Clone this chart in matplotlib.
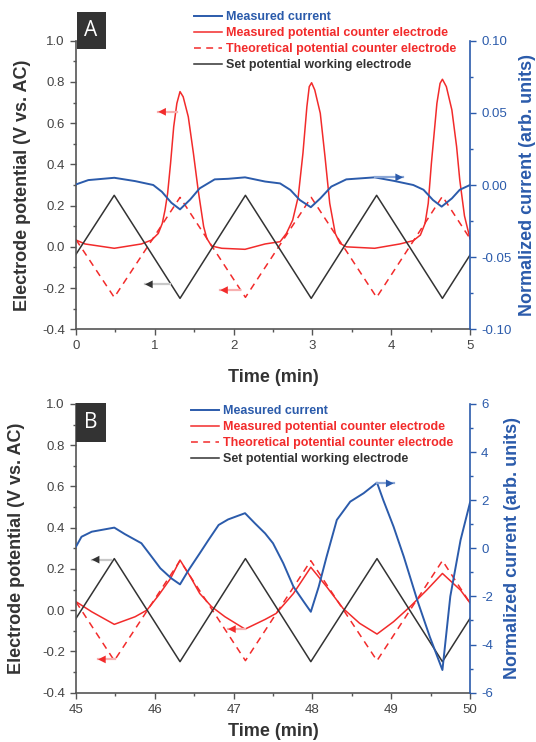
import numpy as np
import matplotlib
matplotlib.use("Agg")
import matplotlib.pyplot as plt
from matplotlib.ticker import MultipleLocator
from matplotlib.patches import Rectangle

plt.rcParams['font.family'] = ['Liberation Sans', 'DejaVu Sans']

# ---------------- panel A data (0-5 min) ----------------
tA_cur = [0, 0.156, 0.486, 0.75, 0.98, 1.09, 1.21, 1.32, 1.45, 1.57, 1.76, 1.93, 2.145, 2.40,
          2.59, 2.72, 2.84, 2.98, 3.10, 3.24, 3.43, 3.79, 4.03, 4.28, 4.41, 4.53, 4.64, 4.77, 4.87, 5.0]
cA_cur = [0.0004, 0.0034, 0.005, 0.0027, 0.0, -0.0047, -0.0123, -0.0169, -0.010, -0.0023, 0.0039,
          0.0043, 0.0053, 0.0024, 0.0011, -0.0034, -0.0104, -0.0154, -0.0093, -0.0011, 0.0039,
          0.0053, 0.0029, 0.0, -0.0033, -0.0104, -0.015, -0.0093, -0.0033, 0.0]

tA_ce = [0.0, 0.114, 0.486, 0.83, 0.96, 1.044, 1.095, 1.13, 1.163, 1.20, 1.24, 1.28, 1.32, 1.36,
         1.425, 1.49, 1.55, 1.62, 1.66, 1.72, 1.85, 2.145, 2.40, 2.59, 2.67, 2.75, 2.82, 2.88,
         2.93, 2.96, 2.99, 3.03, 3.10, 3.16, 3.22, 3.29, 3.35, 3.43, 3.79, 4.11, 4.28, 4.37,
         4.43, 4.47, 4.51, 4.58, 4.62, 4.65, 4.70, 4.77, 4.83, 4.87, 4.93, 5.0]
vA_ce = [0.033, 0.014, -0.007, 0.014, 0.033, 0.065, 0.114, 0.179, 0.26, 0.405, 0.583, 0.696,
         0.753, 0.728, 0.631, 0.454, 0.276, 0.098, 0.041, 0.004, -0.007, -0.012, 0.014, 0.025,
         0.065, 0.13, 0.243, 0.454, 0.68, 0.777, 0.796, 0.761, 0.648, 0.437, 0.211, 0.065,
         0.017, 0.0, -0.007, 0.014, 0.03, 0.057, 0.114, 0.211, 0.405, 0.696, 0.793, 0.813,
         0.777, 0.664, 0.486, 0.325, 0.15, 0.04]

tA_tri = [0, 0.485, 1.32, 2.15, 2.985, 3.815, 4.65, 5.0]
vA_theo = [0.035, -0.245, 0.24, -0.245, 0.24, -0.245, 0.245, 0.04]
vA_we = [-0.036, 0.25, -0.25, 0.25, -0.25, 0.25, -0.25, -0.04]

# ---------------- panel B data (45-50 min) ----------------
tB_cur = [45.0, 45.07, 45.2, 45.486, 45.62, 45.83, 45.96, 46.07, 46.21, 46.32, 46.43, 46.57,
          46.68, 46.81, 46.93, 47.145, 47.27, 47.40, 47.5, 47.63, 47.76, 47.89, 47.98, 48.08,
          48.18, 48.31, 48.48, 48.65, 48.82, 48.90, 49.03, 49.16, 49.33, 49.49, 49.65, 49.75,
          49.88, 50.0]
cB_cur = [0.07, 0.48, 0.69, 0.86, 0.59, 0.21, -0.35, -0.83, -1.25, -1.50, -0.90, -0.21, 0.34,
          0.97, 1.2, 1.46, 1.04, 0.62, 0.21, -0.62, -1.6, -2.22, -2.64, -1.6, -0.35, 1.18, 1.94,
          2.29, 2.73, 2.0, 0.90, -0.35, -2.15, -3.68, -5.06, -2.0, 0.34, 1.9]

tB_ce = [45.0, 45.2, 45.486, 45.75, 45.9, 46.05, 46.2, 46.32, 46.45, 46.57, 46.72, 46.89,
         47.145, 47.40, 47.54, 47.76, 47.98, 48.18, 48.39, 48.60, 48.82, 49.03, 49.24, 49.45,
         49.65, 49.88, 50.0]
vB_ce = [0.041, -0.008, -0.069, -0.032, 0.0, 0.073, 0.154, 0.243, 0.163, 0.081, 0.017, -0.032,
         -0.092, -0.045, -0.016, 0.081, 0.208, 0.114, 0.008, -0.064, -0.116, -0.056, 0.017,
         0.097, 0.178, 0.097, 0.035]

tB_tri = [45.0, 45.486, 46.32, 47.15, 47.98, 48.82, 49.65, 50.0]
vB_theo = [0.04, -0.245, 0.24, -0.245, 0.24, -0.245, 0.24, 0.035]
vB_we = [-0.04, 0.25, -0.25, 0.25, -0.25, 0.25, -0.25, -0.04]

labels = ["Measured current", "Measured potential counter electrode",
          "Theoretical potential counter electrode", "Set potential working electrode"]

BLUE = "#2b5bab"
RED = "#f22b2b"
BLACK = "#333333"
GRAY = "#444444"

W, H = 536, 742
fig = plt.figure(figsize=(W / 100, H / 100), dpi=100)


def arrow(ax, x0, x1, y, color, light):
    ax.plot([x0, x1], [y, y], color=light, lw=1.6, zorder=4)
    ax.annotate('', xy=(x1, y), xytext=(x0, y),
                arrowprops=dict(arrowstyle='-|>,head_length=0.55,head_width=0.28',
                                color=color, lw=0, shrinkA=0, shrinkB=0), zorder=5)


def letter_box(letter, x0, x1, y0, y1):
    # dark square with white letter, in pixel coords from the top-left
    fig.add_artist(Rectangle((x0 / W, 1 - y1 / H), (x1 - x0) / W, (y1 - y0) / H,
                             transform=fig.transFigure, fc='#333333', ec='none', zorder=5))
    fig.text((x0 + x1) / 2 / W, 1 - (y0 + y1) / 2 / H, letter, color='white', fontsize=15,
             family='Open Sans', ha='center', va='center', zorder=6)


def panel(rect, t_cur, c_cur, t_ce, v_ce, t_tri, v_theo, v_we, xlim, clim, cmaj, cmin,
          cfmt, leg_xy, ylab_x, rlab_x, xpad):
    ax = fig.add_axes(rect)
    ax2 = ax.twinx()
    l2, = ax.plot(t_ce, v_ce, color=RED, lw=1.1)
    l3, = ax.plot(t_tri, v_theo, color=RED, lw=1.1, ls=(0, (4.5, 3.5)))
    l4, = ax.plot(t_tri, v_we, color=BLACK, lw=1.1)
    l1, = ax2.plot(t_cur, c_cur, color=BLUE, lw=1.4)

    ax.set_xlim(*xlim)
    ax.set_ylim(-0.4, 1.0)
    ax2.set_ylim(*clim)
    ax.xaxis.set_major_locator(MultipleLocator(1))
    ax.xaxis.set_minor_locator(MultipleLocator(0.5))
    ax.yaxis.set_major_locator(MultipleLocator(0.2))
    ax.yaxis.set_minor_locator(MultipleLocator(0.1))
    ax2.yaxis.set_major_locator(MultipleLocator(cmaj))
    ax2.yaxis.set_minor_locator(MultipleLocator(cmin))
    ax.yaxis.set_major_formatter(plt.FuncFormatter(lambda v, p: f"{v:.1f}"))
    ax2.yaxis.set_major_formatter(plt.FuncFormatter(cfmt))

    for a in (ax, ax2):
        a.spines['top'].set_visible(False)
    ax.spines['right'].set_visible(False)
    ax2.spines['left'].set_visible(False)
    ax2.spines['bottom'].set_visible(False)
    for s in ('left', 'bottom'):
        ax.spines[s].set_color('#555555')
        ax.spines[s].set_linewidth(1.2)
    ax2.spines['right'].set_color(BLUE)
    ax2.spines['right'].set_linewidth(1.2)

    ax.tick_params(which='major', length=4, width=1, color='#555555', labelcolor=GRAY,
                   labelsize=9.5, pad=4)
    ax.tick_params(which='minor', length=2.5, width=1, color='#555555')
    ax2.tick_params(which='major', length=4, width=1, color=BLUE, labelcolor=BLUE,
                    labelsize=9.5, pad=4)
    ax2.tick_params(which='minor', length=2.5, width=1, color=BLUE)

    ax.set_xlabel("Time (min)", fontsize=13, fontweight='bold', color=BLACK, labelpad=xpad)
    ax.set_ylabel("Electrode potential (V vs. AC)", fontsize=13, fontweight='bold',
                  color=BLACK, va='center')
    ax.yaxis.set_label_coords(ylab_x, 0.5)
    ax2.set_ylabel("Normalized current (arb. units)", fontsize=13, fontweight='bold',
                   color=BLUE, va='center')
    ax2.yaxis.set_label_coords(rlab_x, 0.5)

    leg = ax.legend([l1, l2, l3, l4], labels, loc='upper left', bbox_to_anchor=leg_xy,
                    bbox_transform=fig.transFigure, frameon=False, borderpad=0,
                    borderaxespad=0, handlelength=2.2, handletextpad=0.35,
                    labelspacing=0.32, prop=dict(size=9, weight='bold'))
    for txt, col in zip(leg.get_texts(), [BLUE, RED, RED, BLACK]):
        txt.set_color(col)
    return ax, ax2


axA, axA2 = panel([76 / W, 1 - 329.3 / H, 394 / W, 288.6 / H],
                  tA_cur, cA_cur, tA_ce, vA_ce, tA_tri, vA_theo, vA_we,
                  (0, 5), (-0.10, 0.10), 0.05, 0.025, lambda v, p: f"{v:.2f}",
                  (194 / W, 1 - 11 / H), -0.135, 1.145, 12)
arrow(axA, 1.28, 1.044, 0.655, RED, "#f7b0b0")
arrow(axA, 1.19, 0.876, -0.182, BLACK, "#c8c8c8")
arrow(axA, 2.08, 1.83, -0.21, RED, "#f7b0b0")
arrow(axA2, 3.79, 4.15, 0.0053, BLUE, "#8aa6d6")
letter_box("A", 76.5, 105.5, 11.7, 49.3)

axB, axB2 = panel([76 / W, 1 - 692.6 / H, 394 / W, 288.6 / H],
                  tB_cur, cB_cur, tB_ce, vB_ce, tB_tri, vB_theo, vB_we,
                  (45, 50), (-6, 6), 2, 1, lambda v, p: f"{v:.0f}",
                  (191 / W, 1 - 405 / H), -0.15, 1.107, 5)
arrow(axB, 45.45, 45.2, 0.245, BLACK, "#c8c8c8")
arrow(axB, 45.49, 45.28, -0.239, RED, "#f7b0b0")
arrow(axB, 47.145, 46.93, -0.092, RED, "#f7b0b0")
arrow(axB2, 48.82, 49.03, 2.7, BLUE, "#8aa6d6")
letter_box("B", 76.0, 105.7, 403.3, 441.7)

fig.savefig("out.png", dpi=100)
